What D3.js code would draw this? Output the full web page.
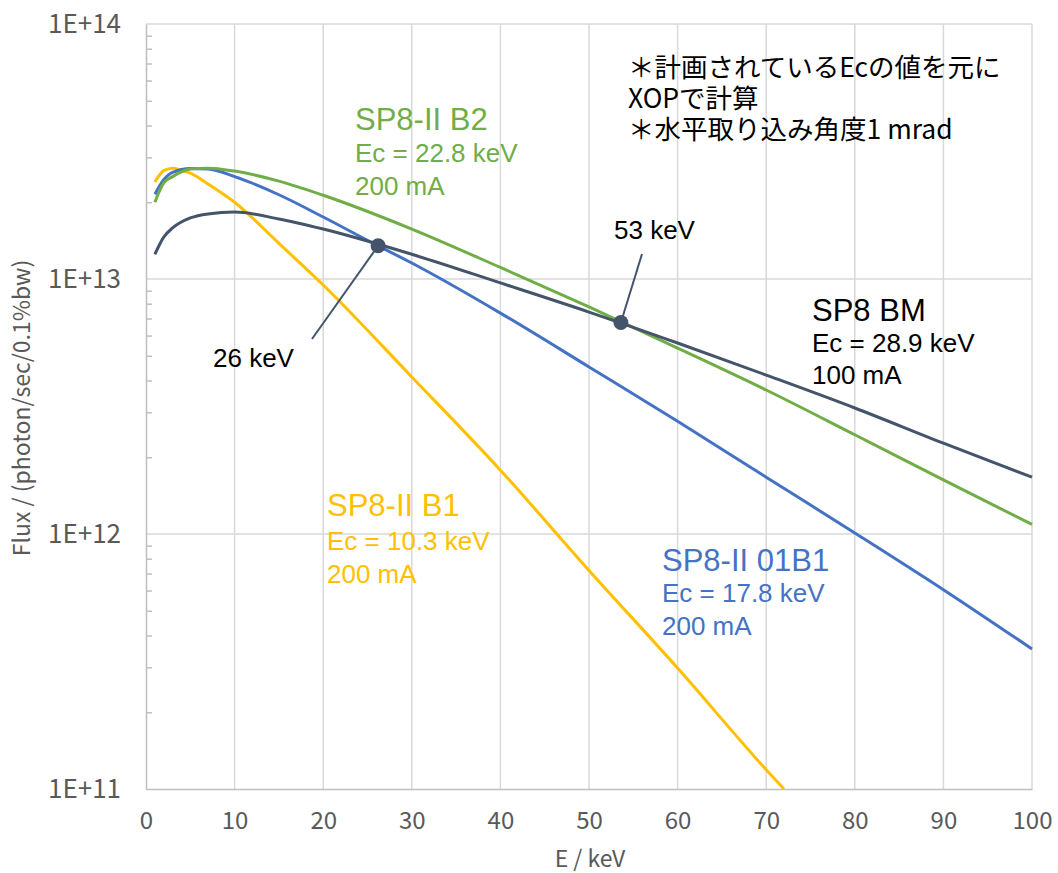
<!DOCTYPE html>
<html>
<head>
<meta charset="utf-8">
<script src="https://cdn.jsdelivr.net/npm/d3@7"></script>
<style>
  body { margin: 0; background: #fff; }
  text { font-family: "Liberation Sans", Arial, sans-serif; }
  .tick text, .axis-title { font-family: "Noto Sans CJK JP", "Noto Sans", sans-serif; fill: #595959; }
</style>
</head>
<body>
<svg id="chart" width="1058" height="873"></svg>
<script>
// flux curves (photon/sec/0.1%bw)
const b1E = [1, 2, 3, 4, 5, 7, 10, 15, 20, 30, 40, 50, 60, 70, 72];
const b1F = [2.40e13, 2.66e13, 2.72e13, 2.67e13, 2.60e13, 2.36e13, 2.00e13, 1.38e13, 9.47e12, 4.13e12, 1.78e12, 7.2e11, 2.98e11, 1.19e11, 1.0e11];

const b01E = [1, 2, 3, 5, 7, 10, 15, 20, 26, 30, 40, 50, 60, 70, 80, 90, 100];
const b01F = [2.15e13, 2.45e13, 2.62e13, 2.71e13, 2.70e13, 2.52e13, 2.14e13, 1.75e13, 1.36e13, 1.155e13, 7.35e12, 4.52e12, 2.77e12, 1.67e12, 1.01e12, 6.05e11, 3.54e11];

const b2E = [1, 2, 3, 5, 7, 10, 15, 20, 30, 40, 50, 60, 70, 80, 90, 100];
const b2F = [2.00e13, 2.38e13, 2.52e13, 2.70e13, 2.72e13, 2.65e13, 2.42e13, 2.13e13, 1.57e13, 1.11e13, 7.77e12, 5.36e12, 3.67e12, 2.45e12, 1.63e12, 1.09e12];

const bmE = [1, 2, 3, 5, 7, 10, 15, 20, 30, 40, 50, 60, 70, 80, 90, 100];
const bmF = [1.25e13, 1.46e13, 1.585e13, 1.735e13, 1.80e13, 1.83e13, 1.72e13, 1.57e13, 1.25e13, 9.65e12, 7.42e12, 5.61e12, 4.20e12, 3.12e12, 2.27e12, 1.67e12];

// crossing points
const crossE = [26.2, 53.6];
const crossF = [1.35e13, 6.75e12];
const crossLabels = ["26 keV", "53 keV"];

const xTicks = [0, 10, 20, 30, 40, 50, 60, 70, 80, 90, 100];
const yTicks = [1e11, 1e12, 1e13, 1e14];

const series = [
    { name: "SP8-II B1", ec: "Ec = 10.3 keV", cur: "200 mA", E: b1E, F: b1F, color: "#FFC000" },
    { name: "SP8-II 01B1", ec: "Ec = 17.8 keV", cur: "200 mA", E: b01E, F: b01F, color: "#4472C4" },
    { name: "SP8-II B2", ec: "Ec = 22.8 keV", cur: "200 mA", E: b2E, F: b2F, color: "#70AD47" },
    { name: "SP8 BM", ec: "Ec = 28.9 keV", cur: "100 mA", E: bmE, F: bmF, color: "#44546A" }
];

const notes = ["＊計画されているEcの値を元に", "XOPで計算", "＊水平取り込み角度1 mrad"];

const svg = d3.select("#chart");

const x = d3.scaleLinear().domain([0, 100]).range([146, 1032]);
const y = d3.scaleLog().domain([1e11, 1e14]).range([789, 24]);

// gridlines
svg.append("g")
    .selectAll("line")
    .data(xTicks.slice(1))
    .join("line")
    .attr("x1", d => x(d)).attr("x2", d => x(d))
    .attr("y1", y(1e14)).attr("y2", y(1e11))
    .attr("stroke", "#d9d9d9").attr("stroke-width", 1.5);

svg.append("g")
    .selectAll("line")
    .data(yTicks.slice(1))
    .join("line")
    .attr("x1", x(0)).attr("x2", x(100))
    .attr("y1", d => y(d)).attr("y2", d => y(d))
    .attr("stroke", "#d9d9d9").attr("stroke-width", 1.5);

// axes
const xAxis = svg.append("g")
    .attr("transform", `translate(0,${y(1e11)})`)
    .call(d3.axisBottom(x).tickValues(xTicks).tickSize(0).tickPadding(23));
xAxis.select(".domain").attr("stroke", "#bfbfbf").attr("stroke-width", 1.5);
xAxis.selectAll("text").attr("font-size", 24);

const yAxis = svg.append("g")
    .attr("transform", `translate(${x(0)},0)`)
    .call(d3.axisLeft(y).tickValues(yTicks).tickSize(0).tickPadding(25)
        .tickFormat(d => "1E+" + Math.round(Math.log10(d))));
yAxis.select(".domain").attr("stroke", "#bfbfbf").attr("stroke-width", 1.5);
yAxis.selectAll("text").attr("font-size", 26);

// minor ticks on the log axis
const minor = [];
yTicks.slice(0, -1).forEach(p => { for (let k = 2; k <= 9; k++) minor.push(p * k); });
const yMinor = svg.append("g")
    .attr("transform", `translate(${x(0)},0)`)
    .call(d3.axisRight(y).tickValues(minor).tickSize(6).tickFormat(""));
yMinor.select(".domain").remove();
yMinor.selectAll("line").attr("stroke", "#bfbfbf").attr("stroke-width", 1.5);

// axis titles
svg.append("text")
    .attr("class", "axis-title")
    .attr("x", 590).attr("y", 867)
    .attr("text-anchor", "middle")
    .attr("font-size", 23)
    .text("E / keV");

svg.append("text")
    .attr("class", "axis-title")
    .attr("transform", "translate(30,408) rotate(-90)")
    .attr("text-anchor", "middle")
    .attr("font-size", 23)
    .text("Flux / (photon/sec/0.1%bw)");

// curves
const line = d3.line()
    .x(d => x(d[0]))
    .y(d => y(d[1]))
    .curve(d3.curveMonotoneX);

svg.append("g")
    .selectAll("path")
    .data(series)
    .join("path")
    .attr("d", s => line(s.E.map((e, i) => [e, s.F[i]])))
    .attr("fill", "none")
    .attr("stroke", s => s.color)
    .attr("stroke-width", 3);

// callouts for the crossings
const calloutEnd = [[312, 339], [642, 254]];
const calloutText = [[213, 367], [614, 239]];
crossE.forEach((e, i) => {
    svg.append("line")
        .attr("x1", x(e)).attr("y1", y(crossF[i]))
        .attr("x2", calloutEnd[i][0]).attr("y2", calloutEnd[i][1])
        .attr("stroke", "#44546A").attr("stroke-width", 2);
    svg.append("circle")
        .attr("cx", x(e)).attr("cy", y(crossF[i]))
        .attr("r", 7.5)
        .attr("fill", "#44546A");
    svg.append("text")
        .attr("x", calloutText[i][0]).attr("y", calloutText[i][1])
        .attr("font-size", 26)
        .attr("fill", "#000")
        .text(crossLabels[i]);
});

// series labels
const labelPos = {
    "SP8-II B2": [355, 130, 162, 195],
    "SP8-II B1": [327, 516, 550, 583],
    "SP8-II 01B1": [662, 571, 602, 635],
    "SP8 BM": [812, 321, 352, 384]
};
series.forEach(s => {
    const p = labelPos[s.name];
    const c = s.name === "SP8 BM" ? "#000" : s.color;
    const t = svg.append("text").attr("fill", c).attr("x", p[0]);
    t.append("tspan").attr("x", p[0]).attr("y", p[1]).attr("font-size", 31).text(s.name);
    t.append("tspan").attr("x", p[0]).attr("y", p[2]).attr("font-size", 26).text(s.ec);
    t.append("tspan").attr("x", p[0]).attr("y", p[3]).attr("font-size", 26).text(s.cur);
});

// note (one text block)
const note = svg.append("text")
    .attr("font-size", 26.5)
    .attr("fill", "#000")
    .style("font-family", "'Noto Sans CJK JP', sans-serif");
note.selectAll("tspan")
    .data(notes)
    .join("tspan")
    .attr("x", 628)
    .attr("y", (d, i) => 77 + i * 31)
    .text(d => d);
</script>
</body>
</html>
